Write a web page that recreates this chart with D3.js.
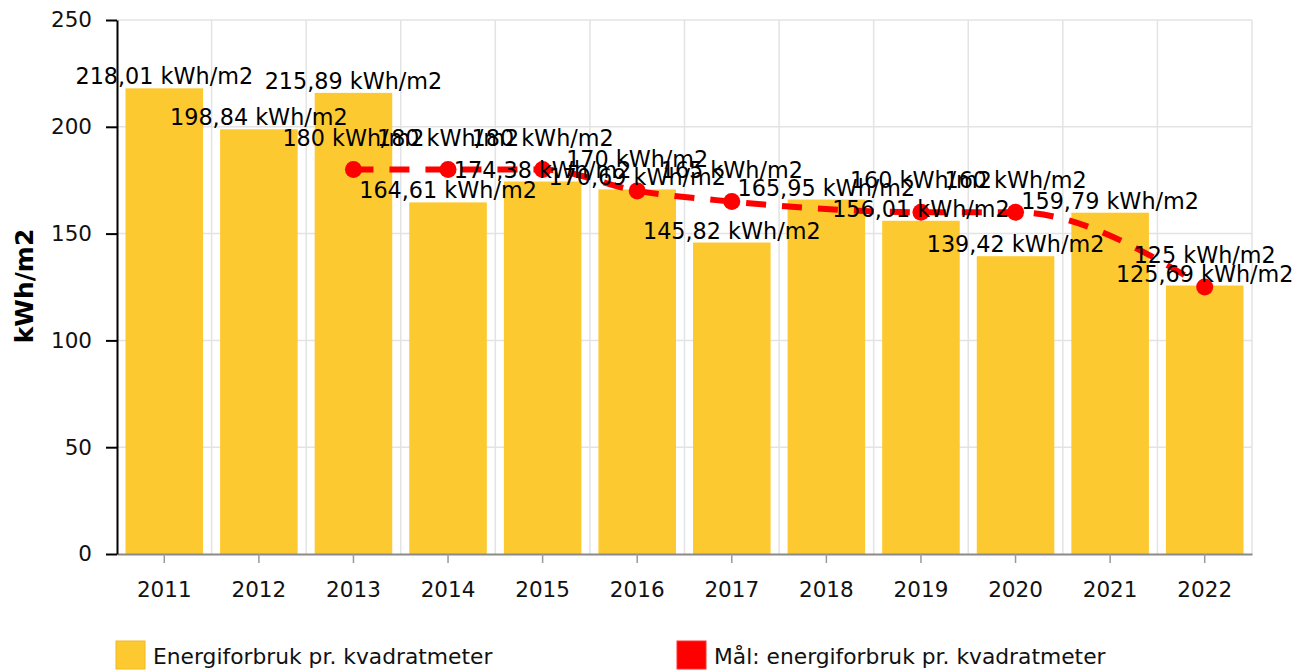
<!DOCTYPE html>
<html>
<head>
<meta charset="utf-8">
<script src="https://cdn.jsdelivr.net/npm/d3@7"></script>
<style>
  html, body { margin: 0; padding: 0; background: #ffffff; }
  svg { display: block; font-family: "DejaVu Sans", Verdana, sans-serif; }
</style>
</head>
<body>
<svg id="chart" width="1309" height="670"></svg>
<script>
const years = ["2011","2012","2013","2014","2015","2016","2017","2018","2019","2020","2021","2022"];
const consumption = [218.01, 198.84, 215.89, 164.61, 174.38, 170.69, 145.82, 165.95, 156.01, 139.42, 159.79, 125.69];
const target = [null, null, 180, 180, 180, 170, 165, null, 160, 160, null, 125];
const yTicks = [0, 50, 100, 150, 200, 250];
const seriesNames = ["Energiforbruk pr. kvadratmeter", "Mål: energiforbruk pr. kvadratmeter"];
const yTitle = "kWh/m2";
const unit = " kWh/m2";

const fmt = v => {
  const s = (Math.round(v * 100) / 100).toString();
  return s.replace(".", ",");
};

const svg = d3.select("#chart");
const plotLeft = 117, plotRight = 1252, plotTop = 20, plotBottom = 554;

const x = d3.scaleBand().domain(years).range([plotLeft, plotRight]).paddingInner(0.18).paddingOuter(0.09);
const y = d3.scaleLinear().domain([0, 250]).range([plotBottom, plotTop]);

const barColor = "#fdc931";
const lineColor = "#ff0000";

// horizontal gridlines
svg.append("g").selectAll("line").data(yTicks.filter(t => t > 0)).join("line")
  .attr("x1", plotLeft).attr("x2", plotRight)
  .attr("y1", d => y(d)).attr("y2", d => y(d))
  .attr("stroke", "#e3e3e3").attr("stroke-width", 1.5);

// vertical gridlines at category boundaries
const step = x.step();
svg.append("g").selectAll("line").data(years).join("line")
  .attr("x1", (d, i) => plotLeft + step * (i + 1)).attr("x2", (d, i) => plotLeft + step * (i + 1))
  .attr("y1", plotTop).attr("y2", plotBottom)
  .attr("stroke", "#e3e3e3").attr("stroke-width", 1.5);

// bars
svg.append("g").selectAll("rect").data(years).join("rect")
  .attr("x", d => x(d))
  .attr("width", x.bandwidth())
  .attr("y", (d, i) => y(consumption[i]))
  .attr("height", (d, i) => y(0) - y(consumption[i]))
  .attr("fill", barColor);

// x axis
const xAxis = svg.append("g").attr("transform", `translate(0,${plotBottom})`)
  .call(d3.axisBottom(x).tickSize(9).tickPadding(19).tickSizeOuter(0));
xAxis.select(".domain").attr("stroke", "#8a8a8a").attr("stroke-width", 2);
xAxis.selectAll(".tick line").attr("stroke", "#999").attr("stroke-width", 1.5);
xAxis.selectAll(".tick text").attr("font-size", "21.5px").attr("fill", "#111")
  .attr("font-family", "DejaVu Sans, Verdana, sans-serif");

// y axis
const yAxis = svg.append("g").attr("transform", `translate(${plotLeft},0)`)
  .call(d3.axisLeft(y).tickValues(yTicks).tickSize(11).tickPadding(14).tickSizeOuter(0));
yAxis.select(".domain").attr("stroke", "#000").attr("stroke-width", 2);
yAxis.selectAll(".tick line").attr("stroke", "#000").attr("stroke-width", 2);
yAxis.selectAll(".tick text").attr("font-size", "21.5px").attr("fill", "#111")
  .attr("font-family", "DejaVu Sans, Verdana, sans-serif");

// y axis title
svg.append("text")
  .attr("transform", `translate(33,286) rotate(-90)`)
  .attr("text-anchor", "middle")
  .attr("font-size", "25px").attr("font-weight", "bold").attr("fill", "#000")
  .text(yTitle);

// target line
const tPoints = years.map((d, i) => ({ year: d, v: target[i] })).filter(p => p.v !== null);
const line = d3.line()
  .x(p => x(p.year) + x.bandwidth() / 2)
  .y(p => y(p.v))
  .curve(d3.curveMonotoneX);
svg.append("path").datum(tPoints)
  .attr("d", line)
  .attr("fill", "none")
  .attr("stroke", lineColor)
  .attr("stroke-width", 6)
  .attr("stroke-dasharray", "20,16");

svg.append("g").selectAll("circle").data(tPoints).join("circle")
  .attr("cx", p => x(p.year) + x.bandwidth() / 2)
  .attr("cy", p => y(p.v))
  .attr("r", 8.5)
  .attr("fill", lineColor);

// bar labels
svg.append("g").selectAll("text").data(years).join("text")
  .attr("x", d => x(d) + x.bandwidth() / 2)
  .attr("y", (d, i) => y(consumption[i]) - 4)
  .attr("text-anchor", "middle")
  .attr("font-size", "22.3px").attr("fill", "#000")
  .text((d, i) => fmt(consumption[i]) + unit);

// target labels
svg.append("g").selectAll("text").data(tPoints).join("text")
  .attr("x", p => x(p.year) + x.bandwidth() / 2)
  .attr("y", p => y(p.v) - 24)
  .attr("text-anchor", "middle")
  .attr("font-size", "22.3px").attr("fill", "#000")
  .text(p => fmt(p.v) + unit);

// legend
const legendX = [116, 677];
const legendColors = [barColor, lineColor];
const legendStroke = ["#f2b81e", "#ff3030"];
const lg = svg.append("g");
seriesNames.forEach((name, i) => {
  lg.append("rect")
    .attr("x", legendX[i]).attr("y", 641)
    .attr("width", 29).attr("height", 28)
    .attr("fill", legendColors[i])
    .attr("stroke", legendStroke[i]).attr("stroke-width", 1);
  lg.append("text")
    .attr("x", legendX[i] + 37).attr("y", 664)
    .attr("font-size", "21.8px").attr("fill", "#111")
    .text(name);
});
</script>
</body>
</html>
